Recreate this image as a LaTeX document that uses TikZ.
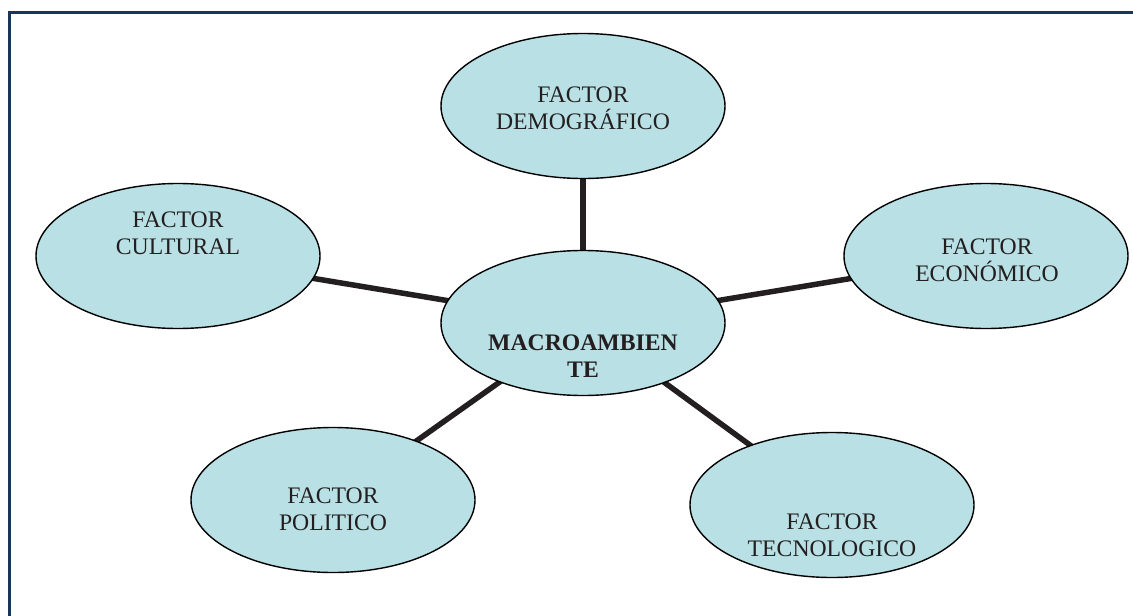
\documentclass[tikz,border=0pt]{standalone}
\usepackage{fontspec}
\setmainfont{Liberation Serif}
\usetikzlibrary{shapes.geometric}
\definecolor{framenavy}{RGB}{23,54,93}
\definecolor{bubblefill}{RGB}{185,224,228}
\definecolor{ink}{RGB}{35,31,32}
\pgfdeclarelayer{background}
\pgfsetlayers{background,main}
\begin{document}
\begin{tikzpicture}[x=1pt,y=-1pt,
  bubble/.style={ellipse, draw=black, line width=1.4pt, fill=bubblefill,
    minimum width=284pt, minimum height=145pt, inner sep=0pt},
  caption/.style={align=center, text=ink, inner sep=0pt,
    font=\fontsize{23.7}{27}\selectfont},
  spoke/.style={draw=ink, line width=5.5pt}]
\useasboundingbox (0,0) rectangle (1133,616);
% frame along the top and left edges
\draw[framenavy, line width=3pt] (9.5,616) -- (9.5,12.5) -- (1133,12.5);

% ellipses
\node[bubble] (dem) at (583,106) {};
\node[bubble] (cul) at (178,256) {};
\node[bubble] (eco) at (986,256) {};
\node[bubble] (mac) at (583,323) {};
\node[bubble] (pol) at (333,500) {};
\node[bubble] (tec) at (832,505) {};

% spokes from the centre, hidden under the fills
\begin{pgfonlayer}{background}
  \foreach \n in {dem,cul,eco,pol,tec}
    \draw[spoke] (mac.center) -- (\n.center);
\end{pgfonlayer}

% labels
\node[caption] (dem-t) at (583,108.5) {FACTOR\\DEMOGRÁFICO};
\node[caption] (cul-t) at (178,233) {FACTOR\\CULTURAL};
\node[caption] (eco-t) at (987,260) {FACTOR\\ECONÓMICO};
\node[caption, font=\fontsize{23.7}{27}\selectfont\bfseries] (mac-t) at (583,356) {MACROAMBIEN\\TE};
\node[caption] (pol-t) at (333,509) {FACTOR\\POLITICO};
\node[caption] (tec-t) at (832,535) {FACTOR\\TECNOLOGICO};
\end{tikzpicture}
\end{document}
